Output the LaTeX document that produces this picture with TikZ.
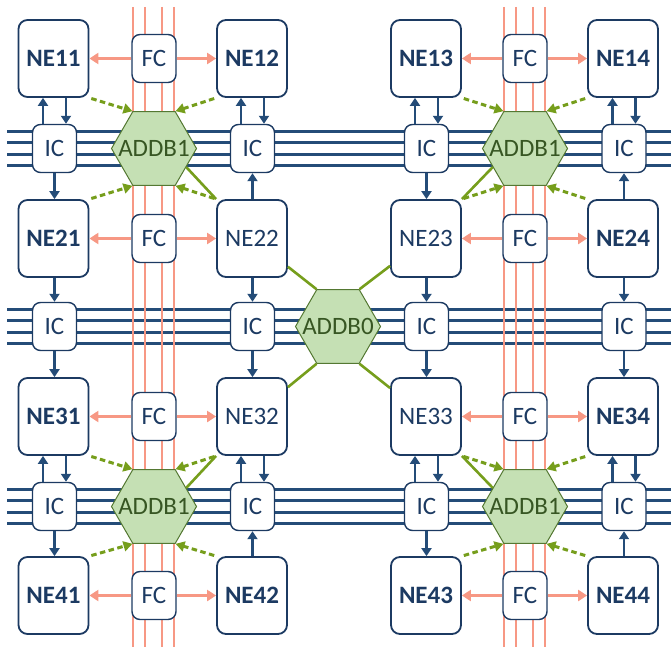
\documentclass[tikz,border=0pt]{standalone}
\usepackage{fontspec}
\setmainfont{Carlito}
\usetikzlibrary{shapes.geometric,arrows.meta}
\definecolor{navy}{RGB}{28,58,98}
\definecolor{busblue}{RGB}{36,76,120}
\definecolor{salmon}{RGB}{247,152,132}
\definecolor{hexfill}{RGB}{197,224,180}
\definecolor{hexdraw}{RGB}{84,120,50}
\definecolor{hextext}{RGB}{55,86,35}
\definecolor{olive}{RGB}{118,158,28}
\begin{document}
\begin{tikzpicture}[x=1pt,y=-1pt,
  ne/.style={draw=navy,line width=1.8pt,fill=white,rounded corners=9pt,minimum width=70pt,minimum height=77pt,inner sep=0pt,text=navy,font=\fontsize{25}{29}\selectfont},
  neb/.style={ne,font=\fontsize{25}{29}\selectfont\bfseries},
  smallbox/.style={draw=navy,line width=1.4pt,fill=white,rounded corners=8pt,minimum width=44pt,minimum height=48pt,inner sep=0pt,text=navy,font=\fontsize{25}{29}\selectfont},
  hexa/.style={regular polygon,regular polygon sides=6,minimum size=85pt,inner sep=0pt,draw=hexdraw,line width=1pt,fill=hexfill,label={[text=hextext,font=\fontsize{25}{29}\selectfont]center:#1}},
  bus/.style={busblue,line width=3.4pt},
  rail/.style={salmon,line width=2.6pt},
  ba/.style={busblue,line width=2.6pt,-{Triangle[length=8pt,width=10pt]}},
  ra/.style={salmon,line width=3.2pt,-{Triangle[length=9pt,width=11pt]}},
  ga/.style={olive,line width=3pt,dash pattern=on 5.5pt off 3.5pt,shorten <=2pt,-{Triangle[length=9pt,width=10pt]}},
  gl/.style={olive,line width=2.6pt},
]
\useasboundingbox (0,0) rectangle (671,647);
% buses
\foreach \y in {148.5,326.5,506.5}{
  \foreach \d in {-17.25,-5.75,5.75,17.25}{
    \draw[bus] (7,\y+\d) -- (671,\y+\d);
  }
}
% rails
\foreach \x in {133,145,162,174,504,516,533,545}{
  \draw[rail] (\x,7) -- (\x,647);
}
% NE nodes
\node[neb] (NE11) at (53.5,58.5) {NE11};
\node[neb] (NE12) at (252,58.5) {NE12};
\node[neb] (NE13) at (426,58.5) {NE13};
\node[neb] (NE14) at (623,58.5) {NE14};
\node[neb] (NE21) at (53.5,238.5) {NE21};
\node[ne]  (NE22) at (252,238.5) {NE22};
\node[ne]  (NE23) at (426,238.5) {NE23};
\node[neb] (NE24) at (623,238.5) {NE24};
\node[neb] (NE31) at (53.5,416.5) {NE31};
\node[ne]  (NE32) at (252,416.5) {NE32};
\node[ne]  (NE33) at (426,416.5) {NE33};
\node[neb] (NE34) at (623,416.5) {NE34};
\node[neb] (NE41) at (53.5,595.5) {NE41};
\node[neb] (NE42) at (252,595.5) {NE42};
\node[neb] (NE43) at (426,595.5) {NE43};
\node[neb] (NE44) at (623,595.5) {NE44};
% FC nodes
\node[smallbox] (F1a) at (154,58.5) {FC};
\node[smallbox] (F1b) at (525,58.5) {FC};
\node[smallbox] (F2a) at (154,238.5) {FC};
\node[smallbox] (F2b) at (525,238.5) {FC};
\node[smallbox] (F3a) at (154,416.5) {FC};
\node[smallbox] (F3b) at (525,416.5) {FC};
\node[smallbox] (F4a) at (154,595.5) {FC};
\node[smallbox] (F4b) at (525,595.5) {FC};
% IC nodes
\node[smallbox] (I1a) at (54.5,148.5) {IC};
\node[smallbox] (I1b) at (252.5,148.5) {IC};
\node[smallbox] (I1c) at (426.5,148.5) {IC};
\node[smallbox] (I1d) at (624,148.5) {IC};
\node[smallbox] (I2a) at (54.5,326.5) {IC};
\node[smallbox] (I2b) at (252.5,326.5) {IC};
\node[smallbox] (I2c) at (426.5,326.5) {IC};
\node[smallbox] (I2d) at (624,326.5) {IC};
\node[smallbox] (I3a) at (54.5,506.5) {IC};
\node[smallbox] (I3b) at (252.5,506.5) {IC};
\node[smallbox] (I3c) at (426.5,506.5) {IC};
\node[smallbox] (I3d) at (624,506.5) {IC};
% hexagons
\node[hexa=ADDB1] (A1) at (154,148.5) {};
\node[hexa=ADDB1] (A2) at (525,148.5) {};
\node[hexa=ADDB1] (A3) at (154,506.5) {};
\node[hexa=ADDB1] (A4) at (525,506.5) {};
\node[hexa=ADDB0] (A0) at (338,326.5) {};
% FC arrows
\foreach \f/\l/\r in {F1a/NE11/NE12,F1b/NE13/NE14,F2a/NE21/NE22,F2b/NE23/NE24,F3a/NE31/NE32,F3b/NE33/NE34,F4a/NE41/NE42,F4b/NE43/NE44}{
  \draw[ra] (\f) -- (\l);
  \draw[ra] (\f) -- (\r);
}
% double IC arrows (up left, down right)
\foreach \i/\n in {I1a/NE11,I1b/NE12,I1c/NE13,I1d/NE14,I3a/NE31,I3b/NE32,I3c/NE33,I3d/NE34}{
  \draw[ba] ([xshift=-11.5pt]\i.north) -- ([xshift=-11.5pt]\i.north |- \n.south);
  \draw[ba] ([xshift=11.5pt]\i.north |- \n.south) -- ([xshift=11.5pt]\i.north);
}
% IC down to NE below
\foreach \i/\n in {I1a/NE21,I1c/NE23,I2a/NE31,I2b/NE32,I2c/NE33,I2d/NE34,I3a/NE41,I3c/NE43}{
  \draw[ba] (\i.south) -- (\i.south |- \n.north);
}
% NE above down to IC
\foreach \n/\i in {NE21/I2a,NE22/I2b,NE23/I2c,NE24/I2d}{
  \draw[ba] (\i.north |- \n.south) -- (\i.north);
}
% NE below up to IC
\foreach \n/\i in {NE22/I1b,NE24/I1d,NE42/I3b,NE44/I3d}{
  \draw[ba] (\i.south |- \n.north) -- (\i.south);
}
% dashed green arrows
\foreach \h/\a/\b/\c/\d in {A1/NE11/NE12/NE21/NE22,A2/NE13/NE14/NE23/NE24,A3/NE31/NE32/NE41/NE42,A4/NE33/NE34/NE43/NE44}{
  \draw[ga] (\a.south east) -- (\h.120);
  \draw[ga] (\b.south west) -- (\h.60);
  \draw[ga] (\c.north east) -- (\h.240);
  \draw[ga] (\d.north west) -- (\h.300);
}
% solid green lines
\draw[gl] (A1.330) -- (NE22.north west);
\draw[gl] (A2.210) -- (NE23.north east);
\draw[gl] (A3.30) -- (NE32.south west);
\draw[gl] (A4.150) -- (NE33.south east);
\draw[gl] (A0.120) -- (NE22);
\draw[gl] (A0.60) -- (NE23);
\draw[gl] (A0.240) -- (NE32);
\draw[gl] (A0.300) -- (NE33);
\end{tikzpicture}
\end{document}
